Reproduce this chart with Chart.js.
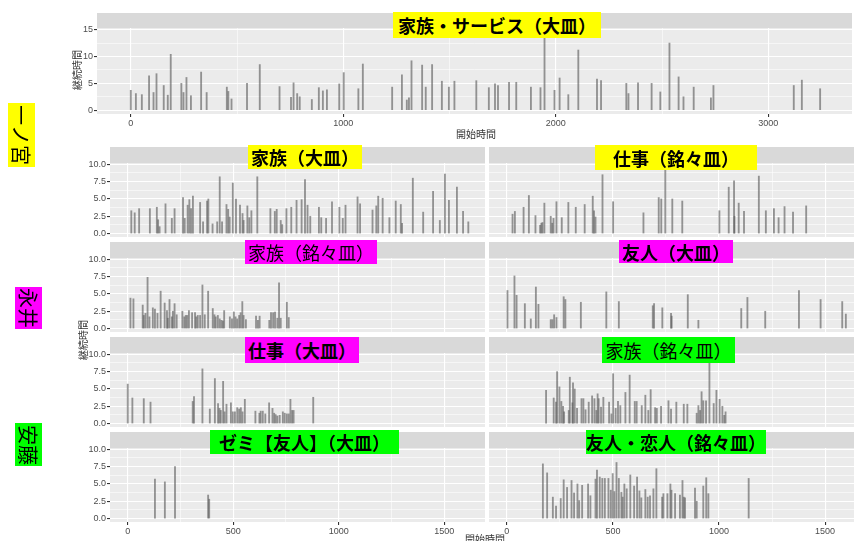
<!DOCTYPE html>
<html>
<head>
<meta charset="utf-8">
<script src="https://cdn.jsdelivr.net/npm/chart.js@4.4.1/dist/chart.umd.min.js"></script>
<style>
html, body { margin: 0; padding: 0; width: 854px; height: 541px; overflow: hidden; background: #fff; font-family: "Noto Sans CJK JP", sans-serif; }
canvas { position: absolute; }
.lab { position: absolute; display: flex; align-items: center; justify-content: center; font-size: 18px; font-weight: bold; color: #000; white-space: nowrap; }
.side { position: absolute; writing-mode: vertical-rl; text-orientation: sideways; font-size: 20px; display: flex; align-items: center; justify-content: center; color: #000; }
.axt { position: absolute; font-size: 10px; color: #333; white-space: nowrap; transform: translate(-50%, -50%); }
.axt.rot { transform: translate(-50%, -50%) rotate(-90deg); }
</style>
</head>
<body>
<canvas id="top"></canvas>
<canvas id="r1l"></canvas><canvas id="r1r"></canvas>
<canvas id="r2l"></canvas><canvas id="r2r"></canvas>
<canvas id="r3l"></canvas><canvas id="r3r"></canvas>
<canvas id="r4l"></canvas><canvas id="r4r"></canvas>

<div class="lab" style="left:393px;top:12px;width:208px;height:26px;background:#ffff00">家族・サービス（大皿）</div>
<div class="lab" style="left:248px;top:145px;width:114px;height:24px;background:#ffff00">家族（大皿）</div>
<div class="lab" style="left:595px;top:145px;width:162px;height:25px;background:#ffff00">仕事（銘々皿）</div>
<div class="lab" style="left:245px;top:240px;width:132px;height:24px;background:#ff00ff;font-weight:normal">家族（銘々皿）</div>
<div class="lab" style="left:619px;top:240px;width:114px;height:23px;background:#ff00ff">友人（大皿）</div>
<div class="lab" style="left:245px;top:337px;width:114px;height:26px;background:#ff00ff">仕事（大皿）</div>
<div class="lab" style="left:602px;top:337px;width:133px;height:26px;background:#00ff00;font-weight:normal">家族（銘々皿）</div>
<div class="lab" style="left:210px;top:430px;width:189px;height:24px;background:#00ff00">ゼミ【友人】（大皿）</div>
<div class="lab" style="left:586px;top:430px;width:180px;height:24px;background:#00ff00">友人・恋人（銘々皿）</div>

<div class="side" style="left:8px;top:103px;width:27px;height:64px;background:#ffff00">一ノ宮</div>
<div class="side" style="left:15px;top:287px;width:27px;height:42px;background:#ff00ff">永井</div>
<div class="side" style="left:15px;top:423px;width:27px;height:43px;background:#00ff00">安藤</div>

<div class="axt" style="left:476px;top:133px">開始時間</div>
<div class="axt rot" style="left:76px;top:70px">継続時間</div>
<div class="axt rot" style="left:82px;top:340px">継続時間</div>
<div class="axt" style="left:485px;top:538px">開始時間</div>

<script>
// [開始時間, 継続時間] per panel
const famService = [[0,3.7],[24,3.1],[52,2.9],[86,6.4],[107,3.3],[121,6.8],[155,4.6],[174,2.8],[188,10.4],[238,5.0],
  [248,3.3],[262,6.1],[283,2.7],[331,7.1],[357,3.3],[452,4.3],[459,3.5],[474,2.1],[547,5.0],[607,8.5],
  [700,4.4],[754,2.4],[766,5.1],[783,3.1],[795,2.5],[852,2.0],[885,4.2],[904,3.6],[923,3.8],[981,4.9],
  [1002,7.0],[1071,4.0],[1092,8.6],[1230,4.3],[1276,6.6],[1299,1.9],[1309,2.3],[1321,9.2],[1371,8.4],[1388,4.3],
  [1418,8.5],[1464,5.4],[1497,4.3],[1523,5.4],[1626,5.5],[1685,4.2],[1714,4.9],[1728,4.6],[1780,5.2],[1814,5.2],
  [1883,4.3],[1928,4.2],[1947,14.3],[1994,3.7],[2018,6.0],[2059,2.9],[2106,11.2],[2194,5.8],[2213,5.5],[2332,5.0],
  [2342,3.1],[2387,5.1],[2451,5.0],[2492,3.4],[2535,12.5],[2578,6.2],[2601,2.5],[2649,4.3],[2730,2.3],[2742,4.6],
  [3120,4.6],[3158,5.6],[3244,4.0]];

const famLarge1 = [[17,3.3],[33,3.0],[54,3.6],[105,3.6],[138,3.8],[144,2.0],[151,1.0],[179,4.3],[209,2.2],[222,3.6],
  [262,5.2],[270,2.2],[284,4.1],[292,4.9],[300,3.6],[309,5.4],[343,4.5],[357,1.7],[376,4.7],[382,5.0],
  [402,1.4],[424,1.7],[436,8.2],[447,1.7],[468,4.2],[476,3.5],[483,2.4],[498,7.3],[513,5.0],[532,4.1],
  [544,2.9],[549,1.9],[567,4.0],[576,2.3],[586,3.3],[614,8.2],[676,3.6],[697,3.2],[706,3.5],[725,1.9],
  [732,1.3],[752,3.6],[775,3.8],[800,4.8],[824,4.9],[840,7.8],[852,4.1],[865,2.5],[906,3.8],[917,2.3],
  [940,2.2],[968,4.6],[1003,3.8],[1019,2.2],[1032,4.1],[1089,5.3],[1101,4.3],[1160,3.4],[1178,4.0],[1187,5.4],
  [1208,5.1],[1240,2.3],[1270,4.7],[1294,4.2],[1300,1.5],[1351,8.0],[1400,3.1],[1447,6.1],[1479,1.9],[1503,8.6],
  [1522,4.8],[1560,6.7],[1589,3.2],[1614,1.7]];

const workSmall1 = [[27,2.8],[38,3.2],[79,3.8],[104,5.5],[135,2.6],[157,1.2],[163,1.5],[168,1.6],[177,4.4],[207,2.5],
  [214,1.5],[220,2.2],[234,4.6],[259,2.3],[290,4.5],[325,3.8],[367,4.2],[405,5.4],[411,3.3],[418,2.4],
  [451,8.5],[501,4.6],[644,3.0],[716,5.2],[728,5.0],[747,9.2],[780,5.0],[827,4.7],[1002,3.3],[1046,6.7],
  [1071,7.6],[1073,2.5],[1093,4.4],[1118,3.2],[1188,8.3],[1221,3.3],[1259,3.6],[1281,2.3],[1309,3.9],[1349,3.1],
  [1411,4.0]];

const famSmall2 = [[13,4.4],[27,4.3],[71,3.4],[76,1.9],[84,2.2],[94,7.4],[103,1.7],[119,3.0],[129,2.8],[141,2.2],
  [156,5.4],[175,3.7],[186,2.6],[190,1.5],[198,4.2],[209,1.7],[214,2.5],[222,3.6],[232,2.0],[259,2.5],
  [268,1.7],[275,1.9],[282,1.9],[290,2.6],[305,2.3],[319,2.3],[325,1.7],[332,1.9],[343,1.9],[354,6.3],
  [365,2.0],[381,5.4],[403,2.9],[411,2.0],[417,1.7],[427,1.9],[436,1.4],[444,1.2],[451,1.1],[457,2.6],
  [484,1.7],[494,1.4],[503,2.4],[511,1.7],[519,1.4],[528,1.9],[535,2.3],[543,3.9],[549,1.9],[560,1.3],
  [608,1.8],[617,1.2],[625,1.8],[671,1.2],[679,2.3],[689,2.3],[698,2.4],[709,1.5],[717,6.6],[725,1.5],
  [754,3.8],[763,1.6]];

const friendLarge2 = [[3,5.5],[36,7.6],[46,4.8],[85,3.6],[113,1.4],[137,6.0],[149,3.5],[207,1.3],[215,1.3],[223,2.0],
  [234,1.6],[268,4.6],[276,4.2],[349,3.8],[469,5.3],[528,3.9],[688,3.3],[694,3.6],[733,3.0],[774,2.2],
  [777,1.8],[853,4.9],[903,1.2],[1105,2.9],[1134,4.5],[1218,2.5],[1377,5.5],[1479,4.2],[1581,3.9],[1598,2.1]];

const workLarge2 = [[0,5.7],[22,3.7],[76,3.6],[108,3.1],[308,3.2],[314,3.9],[354,7.9],[389,2.1],[413,6.5],[428,2.9],
  [435,2.2],[441,1.9],[452,6.1],[459,1.7],[468,2.8],[489,3.0],[498,1.7],[508,1.7],[519,2.3],[528,2.1],
  [536,2.3],[544,1.7],[555,3.5],[605,1.8],[624,1.5],[630,1.8],[640,1.8],[652,1.4],[670,3.0],[686,2.2],
  [694,1.5],[701,1.3],[709,1.1],[720,1.2],[735,1.7],[744,1.5],[754,1.4],[763,1.4],[771,3.5],[779,1.9],
  [786,1.9],[879,3.8]];

const famSmall3 = [[185,4.8],[221,3.7],[232,3.1],[237,7.5],[248,5.3],[257,3.2],[265,2.5],[270,1.7],[292,1.9],[297,6.7],
  [309,3.0],[312,5.9],[320,5.0],[331,2.2],[352,3.6],[361,3.6],[371,2.0],[386,3.1],[402,4.0],[413,3.6],
  [422,1.9],[428,4.3],[433,3.6],[444,2.4],[455,3.8],[482,3.1],[493,1.4],[501,7.2],[513,2.2],[524,3.2],
  [535,2.6],[559,4.5],[579,7.0],[603,3.2],[612,3.2],[636,2.6],[653,4.1],[667,1.9],[678,4.9],[699,2.3],
  [707,2.2],[727,2.5],[762,3.3],[774,2.1],[799,3.1],[834,2.8],[851,2.8],[895,1.5],[903,2.6],[911,1.9],
  [918,4.6],[926,3.3],[939,3.3],[955,8.8],[975,2.9],[988,4.8],[1003,3.5],[1016,2.5],[1025,1.2],[1031,1.7]];

const seminarLarge = [[129,5.7],[176,5.3],[224,7.5],[381,3.4],[386,2.8]];

const friendLoverSmall = [[170,7.9],[190,6.6],[217,3.1],[232,1.8],[254,2.9],[268,5.6],[284,4.5],[305,5.5],[317,3.7],[333,5.0],
  [341,2.6],[355,4.8],[383,5.0],[394,3.3],[418,5.7],[425,7.0],[438,6.0],[450,5.8],[462,5.8],[479,5.8],
  [490,4.1],[499,6.5],[507,3.9],[517,8.1],[528,5.8],[540,3.8],[546,3.1],[554,5.0],[565,4.3],[582,6.3],
  [600,4.7],[614,6.0],[625,4.0],[634,3.0],[653,4.2],[664,3.1],[675,3.3],[691,4.3],[705,7.2],[732,3.1],
  [738,3.6],[757,3.6],[771,5.0],[776,4.1],[793,3.6],[816,3.4],[828,5.5],[834,3.1],[840,3.0],[887,4.4],
  [895,2.5],[926,4.7],[940,5.9],[950,3.6],[1140,5.8]];

const topXRange = [-159, 3394];
const topYRange = [-0.7, 15.3];
const facetXRange = [-84, 1693];
const facetYRange = [-0.49, 10.19];

// panel background + strip
const panelBg = {
  id: 'panelBg',
  beforeDraw(chart, args, o) {
    const { ctx, chartArea: a } = chart;
    ctx.save();
    ctx.fillStyle = '#ebebeb';
    ctx.fillRect(a.left, a.top, a.right - a.left, a.bottom - a.top);
    ctx.fillStyle = '#d9d9d9';
    ctx.fillRect(a.left, a.top - o.strip, a.right - a.left, o.strip);
    ctx.restore();
  }
};

function isMajor(v, major) {
  return Math.abs(v / major - Math.round(v / major)) < 1e-6;
}
function tickMajor(c, major) {
  return c && c.tick ? isMajor(c.tick.value, major) : true;
}
// grid positions: every step inside the range (major = every second one)
function stepTicks(range, step) {
  const out = [];
  for (let v = Math.ceil(range[0] / step) * step; v <= range[1]; v += step) out.push({ value: +v.toFixed(4) });
  return out;
}

function makePanel(id, pairs, o) {
  const cv = document.getElementById(id);
  cv.width = o.w; cv.height = o.h;
  cv.style.left = o.x + 'px'; cv.style.top = o.y + 'px';
  const tickFont = { family: 'Liberation Sans', size: 9 };
  return new Chart(cv, {
    type: 'bar',
    data: {
      datasets: [{
        data: pairs.map(p => ({ x: p[0], y: p[1] })),
        backgroundColor: 'rgba(90,90,90,0.62)',
        barThickness: 1.2
      }]
    },
    options: {
      responsive: false,
      animation: false,
      devicePixelRatio: 1,
      layout: { padding: { top: o.strip, right: o.padR || 0, left: 0, bottom: 0 } },
      plugins: { legend: { display: false }, tooltip: { enabled: false }, panelBg: { strip: o.strip - (o.gap || 0) } },
      scales: {
        x: {
          type: 'linear', offset: false, bounds: 'ticks', min: o.xr[0], max: o.xr[1],
          afterBuildTicks: s => { s.ticks = stepTicks(o.xr, o.xstep); },
          ticks: {
            autoSkip: false, maxRotation: 0,
            display: o.xlab, color: '#4d4d4d', font: tickFont, padding: 1,
            callback: v => isMajor(v, o.xstep * 2) ? String(v) : ''
          },
          grid: {
            offset: false,
            color: '#ffffff',
            lineWidth: c => tickMajor(c, o.xstep * 2) ? 1.1 : 0.55,
            drawTicks: o.xlab, tickLength: 3,
            tickColor: c => tickMajor(c, o.xstep * 2) ? '#333333' : 'rgba(0,0,0,0)'
          },
          border: { display: false },
          afterFit: s => { s.height = o.xh; s.paddingLeft = 0; s.paddingRight = 0; }
        },
        y: {
          min: o.yr[0], max: o.yr[1],
          afterBuildTicks: s => { s.ticks = stepTicks(o.yr, o.ystep); },
          ticks: {
            autoSkip: false,
            display: o.ylab, color: '#4d4d4d', font: tickFont, padding: 1,
            callback: v => isMajor(v, o.ystep * 2) ? o.yfmt(v) : ''
          },
          grid: {
            color: '#ffffff',
            lineWidth: c => tickMajor(c, o.ystep * 2) ? 1.1 : 0.55,
            drawTicks: o.ylab, tickLength: 3,
            tickColor: c => tickMajor(c, o.ystep * 2) ? '#333333' : 'rgba(0,0,0,0)'
          },
          border: { display: false },
          afterFit: s => { s.width = o.yw; s.paddingTop = 0; s.paddingBottom = 0; }
        }
      }
    },
    plugins: [panelBg]
  });
}

// top: 家族・サービス（大皿）
makePanel('top', famService, {
  x: 0, y: 0, w: 854, h: 144, strip: 28, gap: 13, padR: 2,
  xr: topXRange, yr: topYRange, xstep: 500, ystep: 2.5,
  xlab: true, ylab: true, xh: 30, yw: 97, yfmt: v => String(v)
});

const rowTops = [147, 242, 337, 432];
const facets = [
  ['r1l', famLarge1, 0, 'l'], ['r1r', workSmall1, 0, 'r'],
  ['r2l', famSmall2, 1, 'l'], ['r2r', friendLarge2, 1, 'r'],
  ['r3l', workLarge2, 2, 'l'], ['r3r', famSmall3, 2, 'r'],
  ['r4l', seminarLarge, 3, 'l'], ['r4r', friendLoverSmall, 3, 'r']
];

facets.forEach(([id, pairs, row, side]) => {
  const last = row === 3;
  const left = side === 'l';
  makePanel(id, pairs, {
    x: left ? 60 : 489, y: rowTops[row], w: left ? 425 : 377, h: last ? 112 : 90,
    strip: 16, xr: facetXRange, yr: facetYRange, xstep: 250, ystep: 1.25,
    xlab: last, ylab: left, xh: last ? 22 : 0, yw: left ? 50 : 0,
    yfmt: v => v.toFixed(1)
  });
});
</script>
</body>
</html>
